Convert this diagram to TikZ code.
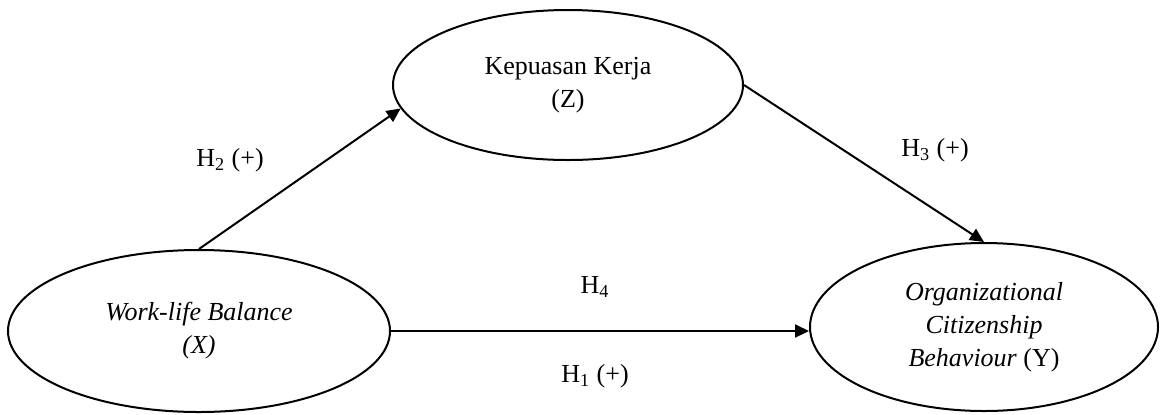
\documentclass[tikz,border=0pt]{standalone}
\usepackage{fontspec}
\setmainfont{Liberation Serif}
\usetikzlibrary{shapes,arrows.meta,positioning}
\tikzstyle{var}=[ellipse,draw,line width=1pt,align=center,inner sep=0pt,font=\fontsize{13}{16.5}\selectfont]
\tikzstyle{arr}=[-{Triangle[length=7pt,width=6.5pt]},line width=1pt]
\tikzstyle{lbl}=[font=\fontsize{13}{16.5}\selectfont]

\begin{document}
\begin{tikzpicture}[x=0.5pt,y=-0.5pt]
\useasboundingbox (0,0) rectangle (1160,414);
\node (Z) [var, minimum width=175pt, minimum height=75pt] at (568,85) {Kepuasan Kerja\\(Z)};
\node (X) [var, minimum width=191pt, minimum height=81pt] at (199,331) {\textit{Work-life Balance}\\\textit{(X)}};
\node (Y) [var, minimum width=174pt, minimum height=84pt] at (984,327) {\textit{Organizational}\\\textit{Citizenship}\\\textit{Behaviour} (Y)};
\draw [arr] (X.north) -- (Z.188);
\draw [arr] (Z.east) -- (Y.north);
\draw [arr] (X.east) -- (X.east -| Y.west);
\node (h2) [lbl] at (230,160) {H\textsubscript{2} (+)};
\node (h3) [lbl] at (935,150) {H\textsubscript{3} (+)};
\node (h4) [lbl] at (595,287) {H\textsubscript{4}};
\node (h1) [lbl] at (595,376) {H\textsubscript{1} (+)};
\end{tikzpicture}
\end{document}
